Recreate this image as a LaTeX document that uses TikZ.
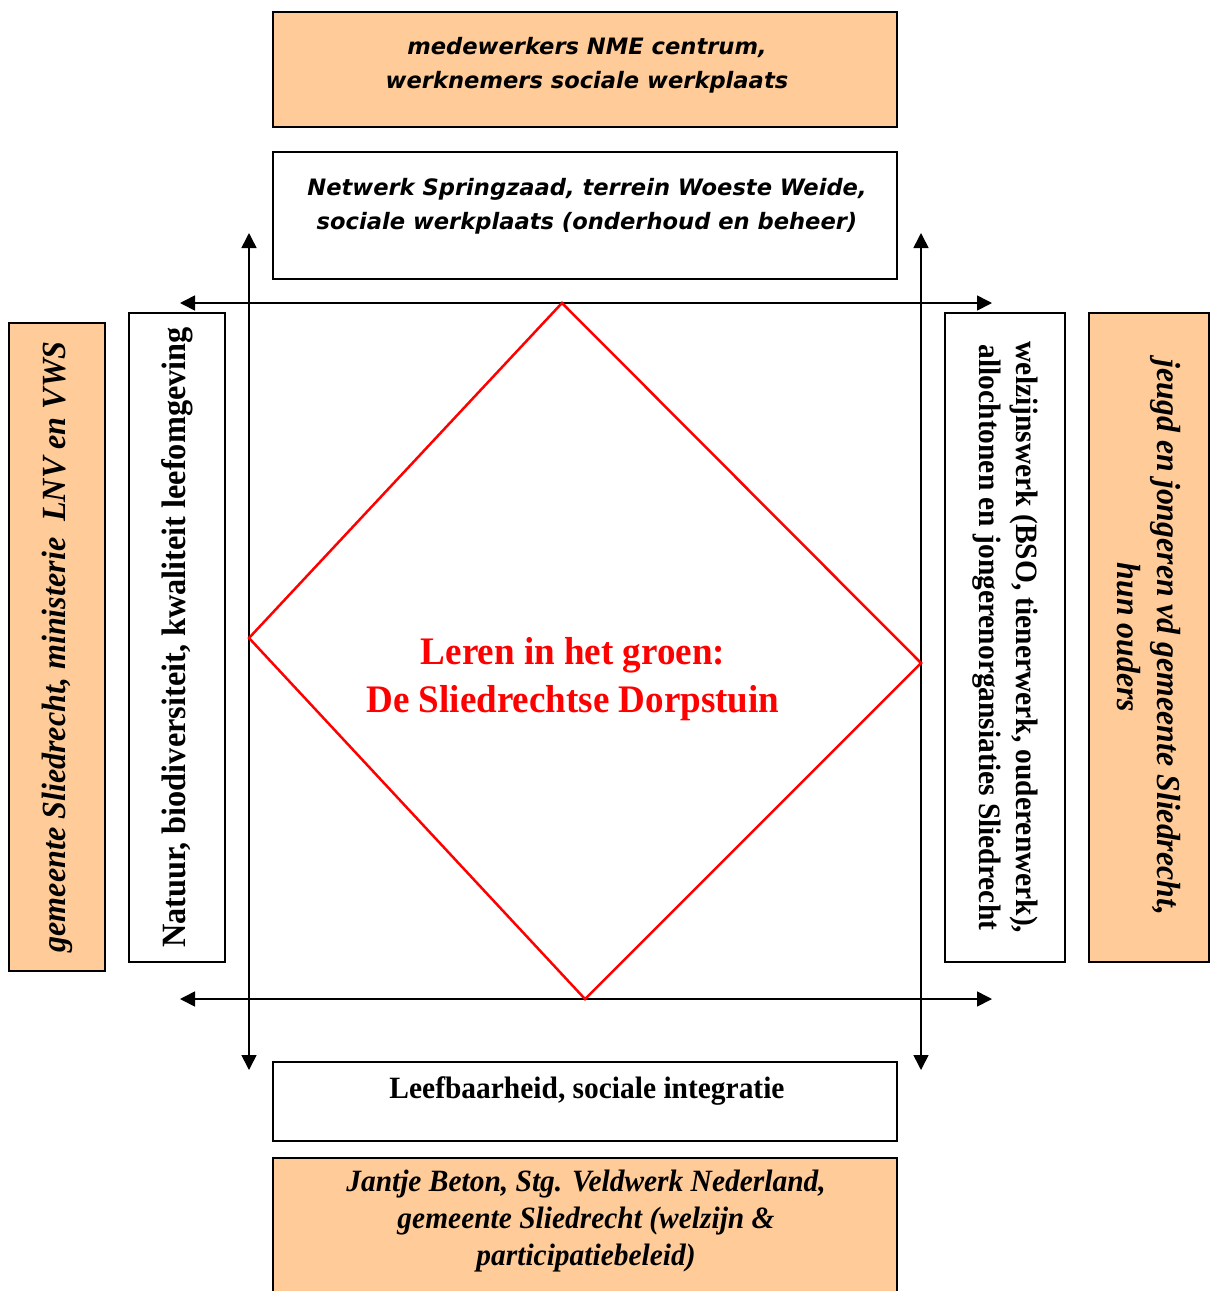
\documentclass[tikz,border=0pt]{standalone}
\usepackage{fontspec}
\setmainfont[FakeStretch=0.95]{Liberation Serif}
\newfontfamily\verdanafont{DejaVu Sans}
\usetikzlibrary{arrows.meta}
\definecolor{boxorange}{HTML}{FFCC99}

\begin{document}
\begin{tikzpicture}[
  x=1pt, y=-1pt,
  orangebox/.style={draw=black, line width=1.5pt, fill=boxorange, inner sep=0pt},
  whitebox/.style={draw=black, line width=1.5pt, fill=white, inner sep=0pt},
  sanstext/.style={align=center, font=\verdanafont\bfseries\itshape\fontsize{22.6}{34}\selectfont},
  serifbold/.style={align=center, font=\bfseries\fontsize{31}{37}\selectfont},
  serifital/.style={align=center, font=\bfseries\itshape\fontsize{31}{37}\selectfont},
  axis/.style={line width=1.6pt, {Triangle[length=15pt,width=15pt]}-{Triangle[length=15pt,width=15pt]}},
  redline/.style={draw=red, line width=2.5pt, line join=miter}
]
\useasboundingbox (0,0) rectangle (1210,1291);

%Boxes top and bottom
\node[orangebox, minimum width=624, minimum height=115] (staff) at (585,69.5) {};
\node[whitebox, minimum width=624, minimum height=127] (network) at (585,215.5) {};
\node[whitebox, minimum width=624, minimum height=79] (living) at (585,1101.5) {};
\node[orangebox, minimum width=624, minimum height=200] (funders) at (585,1258) {};

\node[sanstext] (stafftext) at (587,65) {medewerkers NME centrum,\\ werknemers sociale werkplaats};
\node[sanstext] (networktext) at (587,206) {Netwerk Springzaad, terrein Woeste Weide,\\ sociale werkplaats (onderhoud en beheer)};
\node[serifbold] (livingtext) at (587,1091) {Leefbaarheid, sociale integratie};
\node[serifital] (funderstext) at (586,1221) {Jantje Beton, Stg. Veldwerk Nederland,\\ gemeente Sliedrecht (welzijn \&\\ participatiebeleid)};

%Boxes left and right
\node[orangebox, rotate=90, minimum width=648, minimum height=96, serifital, font=\bfseries\itshape\fontsize{33.8}{40}\selectfont] (ministry) at (57,647) {gemeente Sliedrecht, ministerie~ LNV en VWS};
\node[whitebox, rotate=90, minimum width=649, minimum height=96, serifbold, font=\bfseries\fontsize{34}{40}\selectfont] (nature) at (177,637.5) {Natuur, biodiversiteit, kwaliteit leefomgeving};
\node[whitebox, rotate=-90, minimum width=649, minimum height=120, serifbold, font=\bfseries\fontsize{31}{37}\selectfont] (welfare) at (1005,637.5) {welzijnswerk (BSO, tienerwerk, ouderenwerk),\\ allochtonen en jongerenorgansiaties Sliedrecht};
\node[orangebox, rotate=-90, minimum width=649, minimum height=120, serifital, font=\bfseries\itshape\fontsize{33.5}{40}\selectfont] (youth) at (1149,637.5) {jeugd en jongeren vd gemeente Sliedrecht,\\ hun ouders};

%Axes
\coordinate (topL) at (180,303);
\coordinate (topR) at (992,303);
\coordinate (botL) at (180,999);
\coordinate (botR) at (992,999);
\coordinate (leftT) at (249,233);
\coordinate (leftB) at (249,1070);
\coordinate (rightT) at (921,233);
\coordinate (rightB) at (921,1070);

\draw[axis] (topL) -- (topR);
\draw[axis] (botL) -- (botR);
\draw[axis] (leftT) -- (leftB);
\draw[axis] (rightT) -- (rightB);

%Diamond
\coordinate (dtop) at (562,303);
\coordinate (dright) at (921,663);
\coordinate (dbottom) at (585,999);
\coordinate (dleft) at (249,638);
\draw[redline] (dtop) -- (dright) -- (dbottom) -- (dleft) -- cycle;

\node[align=center, text=red, font=\bfseries\fontsize{39}{48}\selectfont] (title) at (573,679) {Leren in het groen:\\ De Sliedrechtse Dorpstuin};

\end{tikzpicture}
\end{document}
